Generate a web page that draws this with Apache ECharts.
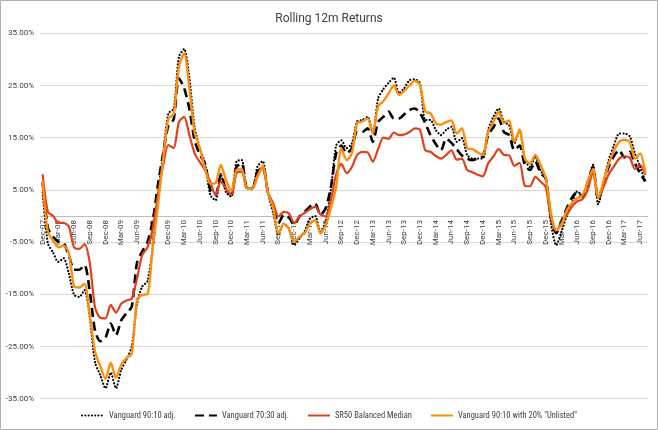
<!DOCTYPE html>
<html><head><meta charset="utf-8">
<script src="https://cdn.jsdelivr.net/npm/echarts@6/dist/echarts.min.js"></script>
<style>html,body{margin:0;padding:0;background:#fff}#c{width:658px;height:430px}</style>
</head><body><div id="c"></div>
<script>
const categories = [
 'Dec-07',
 'Jan-08','Feb-08','Mar-08','Apr-08','May-08','Jun-08','Jul-08','Aug-08','Sep-08','Oct-08','Nov-08','Dec-08',
 'Jan-09','Feb-09','Mar-09','Apr-09','May-09','Jun-09','Jul-09','Aug-09','Sep-09','Oct-09','Nov-09','Dec-09',
 'Jan-10','Feb-10','Mar-10','Apr-10','May-10','Jun-10','Jul-10','Aug-10','Sep-10','Oct-10','Nov-10','Dec-10',
 'Jan-11','Feb-11','Mar-11','Apr-11','May-11','Jun-11','Jul-11','Aug-11','Sep-11','Oct-11','Nov-11','Dec-11',
 'Jan-12','Feb-12','Mar-12','Apr-12','May-12','Jun-12','Jul-12','Aug-12','Sep-12','Oct-12','Nov-12','Dec-12',
 'Jan-13','Feb-13','Mar-13','Apr-13','May-13','Jun-13','Jul-13','Aug-13','Sep-13','Oct-13','Nov-13','Dec-13',
 'Jan-14','Feb-14','Mar-14','Apr-14','May-14','Jun-14','Jul-14','Aug-14','Sep-14','Oct-14','Nov-14','Dec-14',
 'Jan-15','Feb-15','Mar-15','Apr-15','May-15','Jun-15','Jul-15','Aug-15','Sep-15','Oct-15','Nov-15','Dec-15',
 'Jan-16','Feb-16','Mar-16','Apr-16','May-16','Jun-16','Jul-16','Aug-16','Sep-16','Oct-16','Nov-16','Dec-16',
 'Jan-17','Feb-17','Mar-17','Apr-17','May-17','Jun-17','Jul-17'
];

// Vanguard 90:10 adj. (%)
const vanguard9010 = [
 4.5,
 -5.2,-7.0,-8.8,-8.1,-11.0,-15.1,-15.5,-14.2,-19.5,-28.0,-30.5,-33.0,
 -30.0,-33.0,-29.5,-27.5,-25.0,-17.0,-13.5,-12.5,-6.0,4.0,12.0,19.7,
 20.5,30.5,32.0,26.5,17.0,13.0,10.0,4.0,3.0,7.9,4.5,3.7,
 10.5,10.7,5.3,5.3,9.5,10.5,4.5,0.5,-3.6,-1.5,-2.4,-5.6,
 -4.3,-2.9,-0.5,0.0,-3.0,-1.0,5.0,13.5,14.5,13.0,13.9,18.1,
 18.4,19.0,15.8,22.5,24.3,25.5,26.5,23.5,24.5,26.0,26.2,25.4,
 18.4,18.4,16.5,15.5,16.5,17.1,14.2,14.9,11.7,11.0,11.0,11.0,
 16.5,19.0,20.6,18.1,17.4,13.9,16.5,10.7,9.4,11.4,8.8,7.0,
 -1.5,-5.6,-3.0,0.0,2.5,4.7,4.0,6.5,9.8,2.2,6.3,10.7,
 13.5,15.8,15.8,15.3,12.0,9.4,6.6
];

// Vanguard 70:30 adj. (%)
const vanguard7030 = [
 6.5,
 -2.3,-4.0,-4.9,-5.2,-7.5,-10.3,-10.3,-9.4,-14.5,-22.0,-24.0,-23.3,
 -20.6,-22.8,-20.0,-18.6,-17.4,-9.0,-6.8,-5.0,-1.0,6.0,12.0,17.4,
 18.5,26.4,24.5,20.5,14.5,11.8,10.0,5.0,4.0,8.0,5.0,4.0,
 9.4,10.1,5.3,5.3,8.5,9.3,4.5,1.8,-1.4,0.2,-0.3,-1.7,
 -0.1,0.8,1.8,2.4,0.2,1.5,5.5,12.0,13.5,12.0,13.0,16.1,
 16.1,16.8,14.2,18.0,19.0,20.0,18.7,18.7,19.5,20.3,20.6,19.7,
 17.8,15.5,13.8,12.6,14.8,14.0,12.8,11.6,11.0,10.7,11.0,11.5,
 15.5,17.0,18.7,16.1,15.5,12.6,13.5,9.8,8.8,10.4,8.2,7.2,
 -0.5,-3.3,-1.0,1.5,3.5,4.6,3.7,6.5,9.4,3.1,6.3,9.4,
 11.5,12.6,11.2,12.3,10.1,8.2,6.6
];

// SR50 Balanced Median (%)
const sr50Median = [
 8.0,
 0.8,0.0,-1.3,-1.3,-2.0,-6.0,-6.3,-5.4,-9.0,-17.5,-19.5,-19.6,
 -17.0,-18.5,-16.8,-16.2,-15.8,-12.0,-7.5,-6.0,-2.5,4.0,9.8,13.6,
 13.0,18.0,19.0,15.5,12.0,10.3,8.8,6.5,4.0,6.6,5.3,4.0,
 8.2,8.5,5.3,5.3,7.8,9.3,4.5,2.4,-0.1,0.8,0.5,-1.4,
 -0.1,0.6,1.3,1.8,0.3,-0.1,3.0,8.0,10.0,8.2,9.4,11.7,
 12.3,12.2,10.4,12.8,15.0,14.8,16.0,15.5,15.6,16.1,16.8,16.5,
 12.6,12.3,11.5,11.0,11.7,12.6,10.8,11.0,8.8,8.4,7.9,7.6,
 10.1,11.4,12.8,11.7,11.6,9.6,10.2,5.8,5.7,7.5,6.6,5.5,
 -0.5,-2.8,-1.3,0.2,1.8,2.8,3.2,5.0,8.5,3.4,5.5,8.0,
 9.5,11.0,11.4,11.2,9.0,9.8,7.9
];

// Vanguard 90:10 with 20% "Unlisted" (%)
const vanguardUnlisted = [
 6.6,
 -3.0,-4.7,-6.0,-5.7,-7.0,-13.5,-13.7,-13.0,-19.0,-26.0,-28.8,-31.2,
 -28.1,-31.0,-28.5,-27.2,-26.5,-16.0,-15.1,-15.0,-6.0,2.0,11.0,18.7,
 19.5,28.6,31.2,24.5,16.0,13.0,9.0,6.2,6.3,9.8,6.8,4.8,
 8.8,9.0,5.3,5.3,7.5,9.7,4.5,1.5,-3.3,-1.5,-2.5,-4.9,
 -4.0,-3.3,-1.5,-0.8,-3.3,-1.8,1.5,5.6,13.0,10.7,12.0,17.8,
 18.1,18.7,15.8,21.0,22.0,23.5,25.0,23.2,24.0,25.0,25.9,25.1,
 20.0,19.7,17.8,17.5,18.0,18.3,15.8,16.8,13.0,12.8,12.2,11.7,
 16.1,18.0,20.0,17.8,18.3,14.2,16.5,11.0,10.1,11.7,9.8,7.2,
 0.5,-2.7,-1.7,1.1,2.5,3.4,4.0,6.5,9.0,3.4,6.6,10.0,
 12.5,14.2,14.6,14.2,11.0,12.0,8.2
];

const seriesNames = ['Vanguard 90:10 adj.', 'Vanguard 70:30 adj.', 'SR50 Balanced Median', 'Vanguard 90:10 with 20% "Unlisted"'];
const yTickValues = [-35, -25, -15, -5, 5, 15, 25, 35];

const FONT = 'Roboto, "Liberation Sans", sans-serif';
const FONT_NARROW = '"Liberation Sans Narrow", "Roboto Condensed", Roboto, sans-serif';
const GRID_TOP = 33.3, GRID_BOTTOM = 31.3, H = 430;
const chart = echarts.init(document.getElementById('c'), null, {renderer: 'canvas'});
const gridH = H - GRID_TOP - GRID_BOTTOM;
const yMin = yTickValues[0], yMax = yTickValues[yTickValues.length - 1];
const zeroOffset = -gridH * (0 - yMin) / (yMax - yMin); // place category axis at y = 0

chart.setOption({
  animation: false,
  backgroundColor: '#fff',
  textStyle: {fontFamily: FONT},
  title: {
    text: 'Rolling 12m Returns', left: 'center', top: 8,
    textStyle: {fontSize: 12, fontWeight: 'normal', color: '#404040', fontFamily: FONT}
  },
  graphic: [{
    type: 'rect', silent: true, z: -1,
    shape: {x: 0.5, y: 0.5, width: 657, height: 429},
    style: {fill: 'none', stroke: '#b0b0b0', lineWidth: 1}
  }],
  grid: {left: 40, right: 10, top: GRID_TOP, bottom: GRID_BOTTOM, containLabel: false},
  legend: {
    bottom: 5, left: 'center', itemGap: 18, itemWidth: 22, itemHeight: 8,
    itemStyle: {opacity: 0},
    textStyle: {fontSize: 8.5, color: '#404040', fontFamily: FONT_NARROW},
    data: seriesNames
  },
  xAxis: {
    type: 'category', data: categories, boundaryGap: true,
    offset: zeroOffset,
    axisLine: {onZero: false, lineStyle: {color: '#bfbfbf', width: 1}},
    axisTick: {show: false},
    axisLabel: {rotate: 90, interval: 2, fontSize: 8, color: '#404040', margin: 4, fontFamily: FONT},
    splitLine: {show: false}
  },
  yAxis: {
    type: 'value', min: yMin, max: yMax, interval: 10,
    axisLine: {show: false}, axisTick: {show: false},
    axisLabel: {fontSize: 8, color: '#404040', margin: 6, fontFamily: FONT, formatter: v => v.toFixed(2) + '%'},
    splitLine: {lineStyle: {color: '#d9d9d9', width: 1}}
  },
  series: [
    {name: seriesNames[0], type: 'line', data: vanguard9010, symbol: 'none', smooth: 0.25,
     lineStyle: {color: '#000', width: 2.2, type: [0.1, 3.2], cap: 'round'}, itemStyle: {color: '#000'}},
    {name: seriesNames[1], type: 'line', data: vanguard7030, symbol: 'none', smooth: 0.25,
     lineStyle: {color: '#000', width: 2.6, type: [9, 5], cap: 'butt'}, itemStyle: {color: '#000'}},
    {name: seriesNames[2], type: 'line', data: sr50Median, symbol: 'none', smooth: 0.25,
     lineStyle: {color: '#E2401B', width: 2.2}, itemStyle: {color: '#E2401B'}},
    {name: seriesNames[3], type: 'line', data: vanguardUnlisted, symbol: 'none', smooth: 0.25,
     lineStyle: {color: '#FF8C0A', width: 2.4}, itemStyle: {color: '#FF8C0A'}}
  ]
});
</script></body></html>
